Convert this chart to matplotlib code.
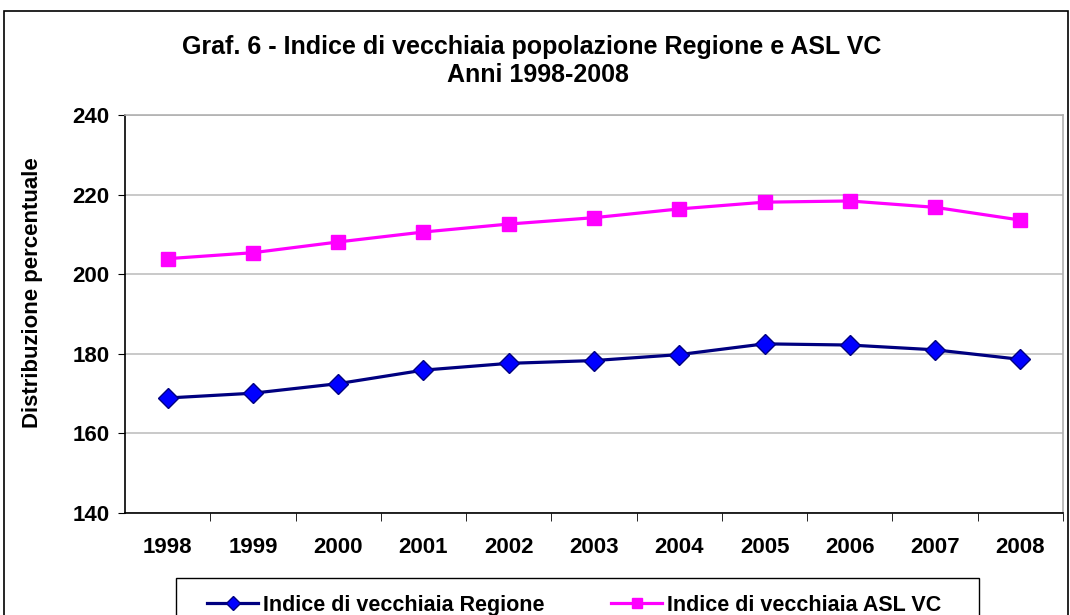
import matplotlib
matplotlib.use("Agg")
import matplotlib.pyplot as plt
from matplotlib.patches import Rectangle

years = ["1998", "1999", "2000", "2001", "2002", "2003", "2004", "2005", "2006", "2007", "2008"]
regione = [168.9, 170.1, 172.5, 175.9, 177.6, 178.3, 179.8, 182.5, 182.2, 181.0, 178.6]
asl_vc = [203.9, 205.4, 208.1, 210.6, 212.6, 214.2, 216.4, 218.1, 218.4, 216.8, 213.6]
yticks = [140, 160, 180, 200, 220, 240]

plt.rcParams['font.family'] = ['Liberation Sans', 'DejaVu Sans']

W, H = 1070, 615
fig = plt.figure(figsize=(10.7, 6.15), dpi=100)
fig.patch.set_facecolor('white')

# outer chart frame
fig.patches.append(Rectangle((4/W, -0.05), 1064/W, 1 - 11/H + 0.05,
                             transform=fig.transFigure, fill=False,
                             edgecolor='black', linewidth=1.2))
# legend frame
fig.patches.append(Rectangle((176/W, -0.05), (979 - 176)/W, 1 - 578/H + 0.05,
                             transform=fig.transFigure, fill=False,
                             edgecolor='black', linewidth=1.0))

ax = fig.add_axes([125/W, 1 - 513/H, 938/W, 398/H])
x = list(range(len(years)))

l1, = ax.plot(x, regione, color='#000080', linewidth=2.3, marker='D', markersize=10,
              markerfacecolor='#0000FF', markeredgecolor='#000080', markeredgewidth=1,
              label='Indice di vecchiaia Regione', zorder=3)
l2, = ax.plot(x, asl_vc, color='#FF00FF', linewidth=2.3, marker='s', markersize=10,
              markerfacecolor='#FF00FF', markeredgecolor='#FF00FF',
              label='Indice di vecchiaia ASL VC', zorder=3)

ax.set_xlim(-0.5, len(years) - 0.5)
ax.set_ylim(140, 240)
ax.set_yticks(yticks)
ax.set_yticklabels([str(v) for v in yticks], fontsize=16, fontweight='bold')
ax.set_xticks(x)
ax.set_xticklabels(years, fontsize=16, fontweight='bold')
ax.tick_params(axis='x', which='major', length=0, pad=17)
ax.set_xticks([i - 0.5 for i in range(1, len(years) + 1)], minor=True)
ax.tick_params(axis='x', which='minor', length=6, direction='out', color='black')
ax.tick_params(axis='y', which='major', length=5, direction='out', pad=6)

ax.grid(axis='y', color='#C0C0C0', linewidth=1.2)
ax.set_axisbelow(True)
for s in ['top', 'right']:
    ax.spines[s].set_color('#B0B0B0')
    ax.spines[s].set_linewidth(1.2)
for s in ['left', 'bottom']:
    ax.spines[s].set_color('black')
    ax.spines[s].set_linewidth(1.2)

fig.text(33/W, 1 - 293/H, 'Distribuzione percentuale', rotation=90,
         ha='center', va='center', fontsize=16, fontweight='bold')

fig.text(532/W, 1 - 47/H, 'Graf. 6 - Indice di vecchiaia popolazione Regione e ASL VC',
         ha='center', va='center', fontsize=18, fontweight='bold')
fig.text(538/W, 1 - 75/H, 'Anni 1998-2008',
         ha='center', va='center', fontsize=18, fontweight='bold')

leg = fig.legend(handles=[l1, l2], loc='upper left',
                 bbox_to_anchor=(207/W, 1 - 595/H), ncol=2,
                 prop={'size': 15.5, 'weight': 'bold'}, frameon=False,
                 handlelength=2.37, handletextpad=0.23,
                 columnspacing=3.1, borderpad=0, borderaxespad=0, markerscale=0.72)

fig.savefig('out.png', dpi=100, facecolor='white')
